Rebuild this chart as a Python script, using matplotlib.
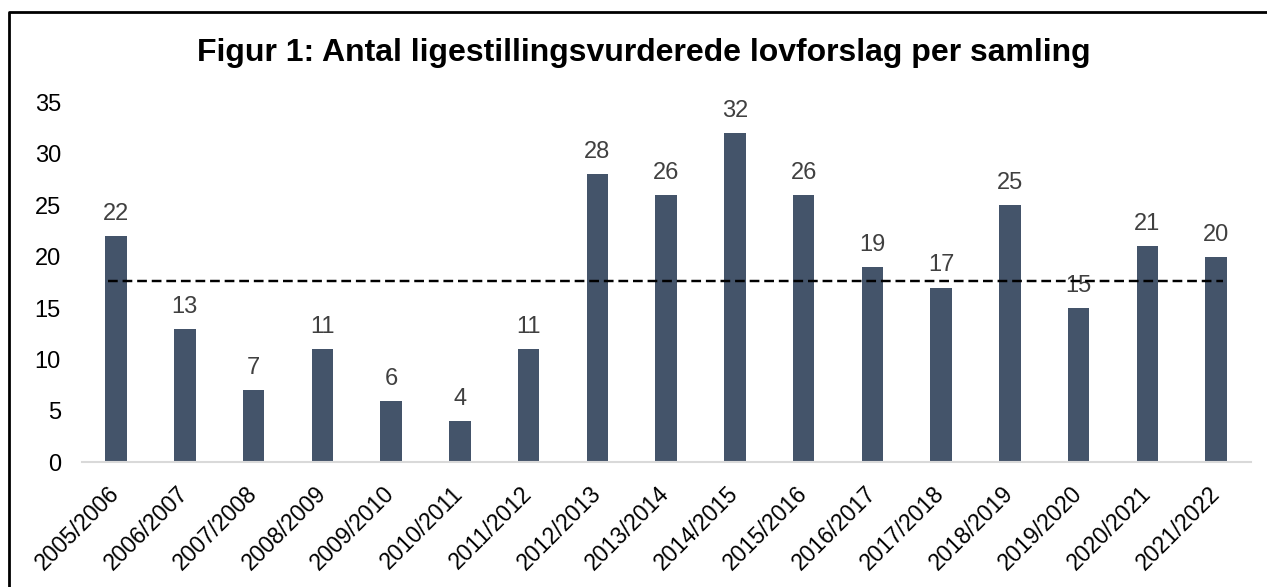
import numpy as np
import matplotlib.pyplot as plt
from matplotlib.lines import Line2D

plt.rcParams['font.family'] = ['Liberation Sans', 'DejaVu Sans']

# samlinger og antal lovforslag
seasons = ['2005/2006', '2006/2007', '2007/2008', '2008/2009', '2009/2010',
           '2010/2011', '2011/2012', '2012/2013', '2013/2014', '2014/2015',
           '2015/2016', '2016/2017', '2017/2018', '2018/2019', '2019/2020',
           '2020/2021', '2021/2022']
counts = [22, 13, 7, 11, 6, 4, 11, 28, 26, 32, 26, 19, 17, 25, 15, 21, 20]
avg_level = 17.6  # gennemsnitslinje (stiplet)

fig = plt.figure(figsize=(12.67, 5.87), dpi=100)
ax = fig.add_axes([0.0645, 0.2124, 0.9225, 0.613])

x = np.arange(len(seasons))
bars = ax.bar(x, counts, width=0.31, color='#44546A', zorder=2)
for xi, v in zip(x, counts):
    ax.annotate(str(v), (xi, v), xytext=(0, 8), textcoords='offset points',
                ha='center', va='bottom', fontsize=17, color='#404040')

ax.hlines(avg_level, -0.12, 16.1, colors='black', linestyles=(0, (4, 2)),
          linewidth=1.75, zorder=3)

ax.set_xlim(-0.5, 16.5)
ax.set_ylim(0, 35)
ax.set_yticks(range(0, 36, 5))
ax.set_xticks(x)
ax.set_xticklabels(seasons, rotation=45, ha='right', va='center',
                   rotation_mode='anchor', fontsize=16.5)
ax.tick_params(axis='y', length=0, pad=15, labelsize=17)
ax.tick_params(axis='x', length=0, pad=20)
for s in ['top', 'right', 'left']:
    ax.spines[s].set_visible(False)
ax.spines['bottom'].set_color('#D9D9D9')
ax.spines['bottom'].set_linewidth(1.5)

fig.text(0.508, 0.91, 'Figur 1: Antal ligestillingsvurderede lovforslag per samling',
         ha='center', va='center', fontsize=23, fontweight='bold')

# ramme om figuren
fig.add_artist(Line2D([9/1267, 9/1267, 1.0], [0.0, 1 - 12/587, 1 - 12/587],
                      transform=fig.transFigure, color='black', linewidth=2))

fig.savefig('out.png', dpi=100)
